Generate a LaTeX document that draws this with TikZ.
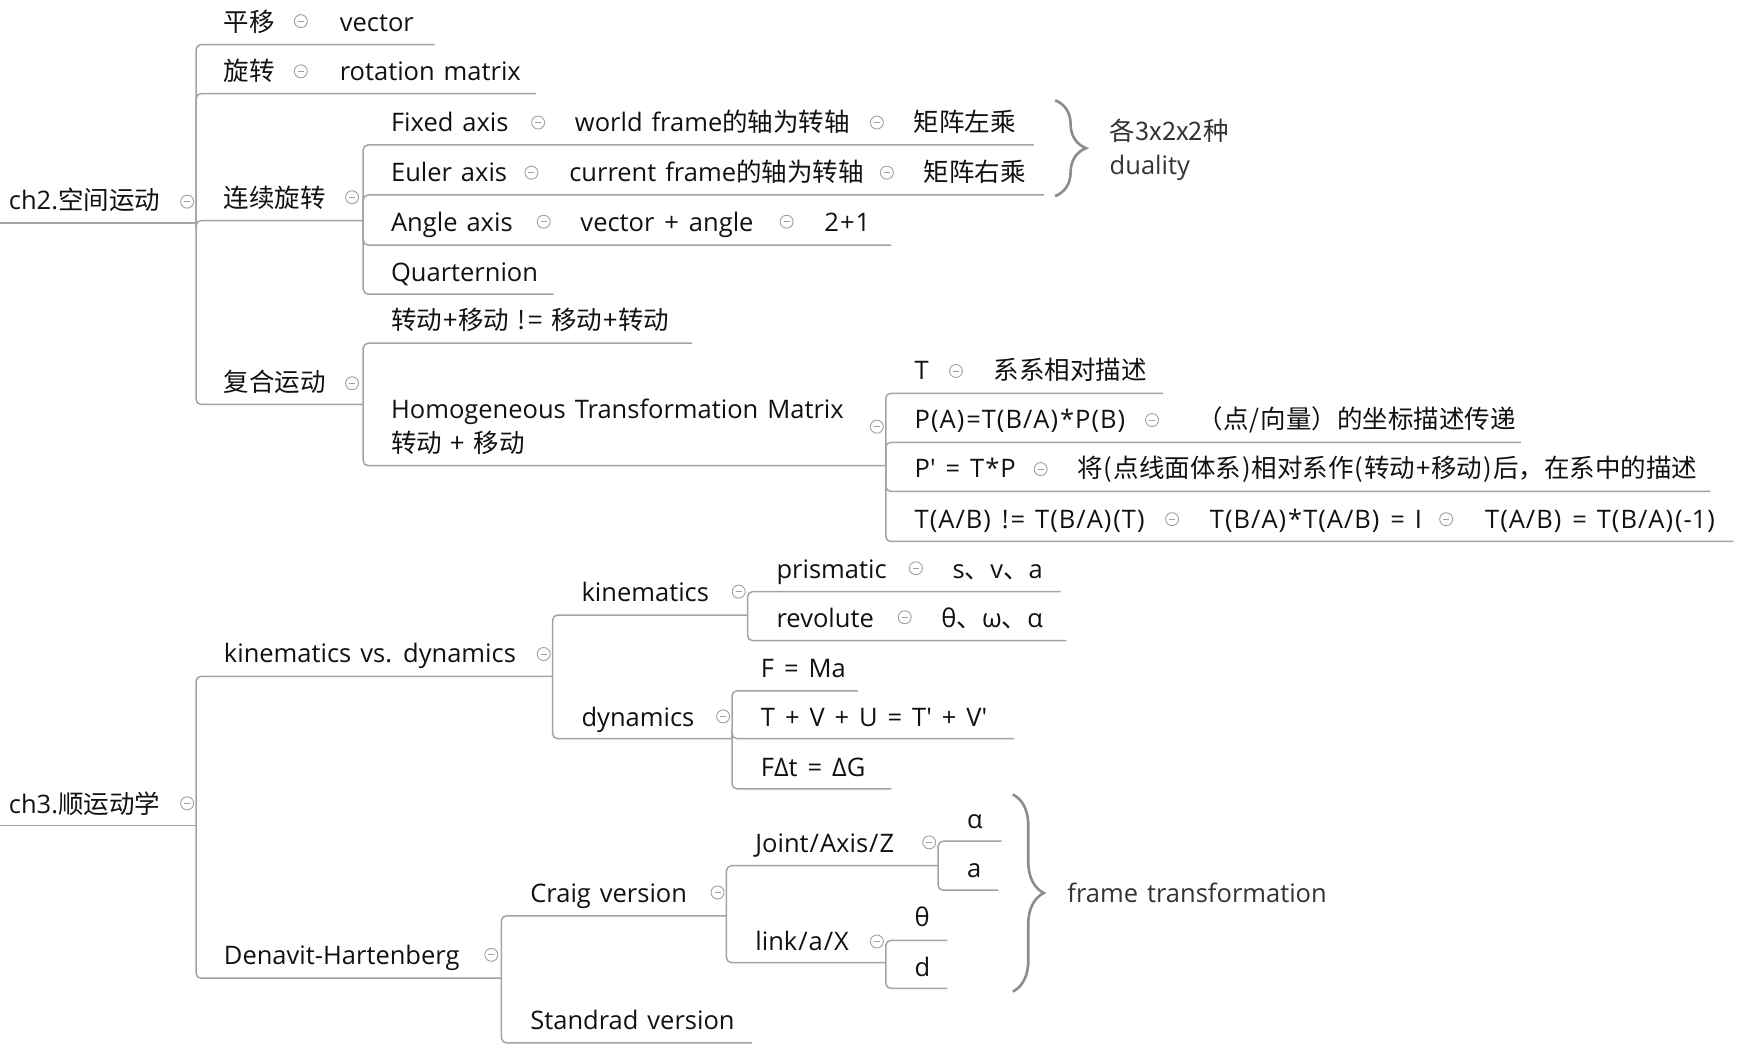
\documentclass[tikz,border=0pt]{standalone}
\usepackage{fontspec}
\setmainfont{Open Sans}[WordSpace=1.35]
\newfontfamily\cjk{Noto Sans CJK SC}[WordSpace=1.35]
\usetikzlibrary{decorations.pathreplacing}
\newXeTeXintercharclass\puncclass
\XeTeXcharclass`\( = \puncclass
\XeTeXcharclass`\) = \puncclass
\XeTeXcharclass`\/ = \puncclass
\XeTeXcharclass`\= = \puncclass
\XeTeXcharclass`\+ = \puncclass
\XeTeXcharclass`\* = \puncclass
\XeTeXcharclass`\! = \puncclass
\XeTeXinterchartoks 0 \puncclass = {\kern1pt\relax}
\XeTeXinterchartoks \puncclass 0 = {\kern1pt\relax}
\XeTeXinterchartoks \puncclass \puncclass = {\kern2pt\relax}
\XeTeXinterchartoks 4095 \puncclass = {\kern1pt\relax}
\XeTeXinterchartoks \puncclass 4095 = {\kern1pt\relax}
\newcommand\mmfont{\fontsize{25.5}{33}\selectfont\XeTeXinterchartokenstate=1\relax}
\definecolor{linec}{HTML}{A3A3A3}
\definecolor{iconc}{HTML}{A0A0A0}
\definecolor{textc}{HTML}{111111}
\definecolor{sumc}{HTML}{333333}
\definecolor{bracec}{HTML}{8C8C8C}
\begin{document}
\begin{tikzpicture}[x=1.1142pt,y=-1.1142pt,
  conn/.style={draw=linec, line width=1.5pt, rounded corners=5pt},
  txt/.style={anchor=base west, inner sep=0pt, outer sep=0pt, text=textc, font=\mmfont},
  sumtxt/.style={txt, text=sumc},
  icon/.style={circle, draw=iconc, line width=0.9pt, minimum size=13pt, inner sep=0pt, fill=white,
    path picture={\draw[iconc, line width=1pt] ([xshift=-3pt]path picture bounding box.center) -- ([xshift=3pt]path picture bounding box.center);}},
  brc/.style={draw=bracec, line width=2.6pt, decorate, decoration={brace, amplitude=31pt}},
]
\path[use as bounding box] (0,0) rectangle (1568,942);

% ---------------- ch2 ----------------
\coordinate (ch2s) at (0,200);
\coordinate (ch2e) at (176,200);
\draw[conn] (ch2s) -- (ch2e);
\node[txt] (ch2) at (8,188) {ch2.{\cjk 空间运动}};
\node[icon] (ch2i) at (168,181) {};

\coordinate (pye) at (390,40);
\draw[conn] (ch2e) |- (pye);
\node[txt] (py) at (201,28) {\cjk 平移};
\node[icon] (pyi) at (270,19) {};
\node[txt] (pyv) at (305,28) {vector};

\coordinate (xze) at (481,84);
\draw[conn] (ch2e) |- (xze);
\node[txt] (xz) at (201,72) {\cjk 旋转};
\node[icon] (xzi) at (270,64) {};
\node[txt] (xzr) at (305,72) {rotation matrix};

\coordinate (lxe) at (326,198);
\draw[conn] (ch2e) |- (lxe);
\node[txt] (lx) at (201,186) {\cjk 连续旋转};
\node[icon] (lxi) at (316,177) {};

\coordinate (fhe) at (326,363);
\draw[conn] (ch2e) |- (fhe);
\node[txt] (fh) at (201,351) {\cjk 复合运动};
\node[icon] (fhi) at (316,344) {};

% 连续旋转 children
\coordinate (fae) at (928,130);
\draw[conn] (lxe) |- (fae);
\node[txt] (fa) at (351,118) {Fixed axis};
\node[icon] (fai) at (483,110) {};
\node[txt] (faw) at (516,118) {world frame{\cjk 的轴为转轴}};
\node[icon] (faj) at (787,110) {};
\node[txt] (fam) at (820,118) {\cjk 矩阵左乘};

\coordinate (eae) at (937,175);
\draw[conn] (lxe) |- (eae);
\node[txt] (ea) at (351,163) {Euler axis};
\node[icon] (eai) at (477,155) {};
\node[txt] (eaw) at (511,163) {current frame{\cjk 的轴为转轴}};
\node[icon] (eaj) at (796,155) {};
\node[txt] (eam) at (829,163) {\cjk 矩阵右乘};

\coordinate (aae) at (800,220);
\draw[conn] (lxe) |- (aae);
\node[txt] (aa) at (351,208) {Angle axis};
\node[icon] (aai) at (488,199) {};
\node[txt] (aav) at (521,208) {vector + angle};
\node[icon] (aaj) at (706,199) {};
\node[txt] (aan) at (740,208) {2+1};

\coordinate (qte) at (497,264);
\draw[conn] (lxe) |- (qte);
\node[txt] (qt) at (351,253) {Quarternion};

% brace 1
\coordinate (b1t) at (947,90);
\coordinate (b1b) at (947,176);
\draw[brc] (b1t) -- (b1b);
\node[sumtxt] (s1a) at (996,126) {\cjk 各3x2x2种};
\node[sumtxt] (s1b) at (996,157) {duality};

% 复合运动 children
\coordinate (nze) at (621,308);
\draw[conn] (fhe) |- (nze);
\node[txt] (nz) at (351,296) {\cjk 转动+移动 != 移动+转动};

\coordinate (hme) at (795,418);
\draw[conn] (fhe) |- (hme);
\node[txt] (hm) at (351,376) {Homogeneous Transformation Matrix};
\node[txt] (hm2) at (351,406) {\cjk 转动 + 移动};
\node[icon] (hmi) at (787,383) {};

% HTM children
\coordinate (the) at (1044,353);
\draw[conn] (hme) |- (the);
\node[txt] (tt) at (821,341) {T};
\node[icon] (tti) at (858,333) {};
\node[txt] (ttd) at (892,341) {\cjk 系系相对描述};

\coordinate (pae) at (1365,397);
\draw[conn] (hme) |- (pae);
\node[txt] (pa) at (821,385) {P(A)=T(B/A)*P(B)};
\node[icon] (pai) at (1034,377) {};
\node[txt] (pad) at (1075,385) {\cjk （点/向量）的坐标描述传递};

\coordinate (ppe) at (1535,441);
\draw[conn] (hme) |- (ppe);
\node[txt] (pp) at (821,429) {P\textquotesingle{} = T*P};
\node[icon] (ppi) at (934,421) {};
\node[txt] (ppd) at (967,429) {\cjk 将(点线面体系)相对系作(转动+移动)后，在系中的描述};

\coordinate (tae) at (1556,486);
\draw[conn] (hme) |- (tae);
\node[txt] (ta) at (821,474) {T(A/B) != T(B/A)(T)};
\node[icon] (tai) at (1052,466) {};
\node[txt] (tab) at (1086,474) {T(B/A)*T(A/B) = I};
\node[icon] (taj) at (1298,466) {};
\node[txt] (tac) at (1333,474) {T(A/B) = T(B/A)(-1)};

% ---------------- ch3 ----------------
\coordinate (ch3s) at (0,741);
\coordinate (ch3e) at (176,741);
\draw[conn] (ch3s) -- (ch3e);
\node[txt] (ch3) at (8,730) {ch3.{\cjk 顺运动学}};
\node[icon] (ch3i) at (168,721) {};

\coordinate (kde) at (496,607);
\draw[conn] (ch3e) |- (kde);
\node[txt] (kd) at (201,595) {kinematics vs. dynamics};
\node[icon] (kdi) at (488,587) {};

\coordinate (dhe) at (450,878);
\draw[conn] (ch3e) |- (dhe);
\node[txt] (dh) at (201,866) {Denavit-Hartenberg};
\node[icon] (dhi) at (441,857) {};

% kinematics vs dynamics children
\coordinate (kie) at (671,552);
\draw[conn] (kde) |- (kie);
\node[txt] (ki) at (522,540) {kinematics};
\node[icon] (kii) at (663,531) {};

\coordinate (dye) at (657,663);
\draw[conn] (kde) |- (dye);
\node[txt] (dy) at (522,652) {dynamics};
\node[icon] (dyi) at (649,643) {};

% kinematics children
\coordinate (pre) at (952,531);
\draw[conn] (kie) |- (pre);
\node[txt] (pr) at (697,519) {prismatic};
\node[icon] (pri) at (822,510) {};
\node[txt] (prv) at (855,519) {s{\cjk 、}v{\cjk 、}a};

\coordinate (rve) at (957,575);
\draw[conn] (kie) |- (rve);
\node[txt] (rv) at (697,563) {revolute};
\node[icon] (rvi) at (812,554) {};
\node[txt] (rvv) at (845,563) {θ{\cjk 、}ω{\cjk 、}α};

% dynamics children
\coordinate (fme) at (770,620);
\draw[conn] (dye) |- (fme);
\node[txt] (fm) at (683,608) {F = Ma};

\coordinate (tve) at (910,663);
\draw[conn] (dye) |- (tve);
\node[txt] (tv) at (683,652) {T + V + U = T\textquotesingle{} + V\textquotesingle};

\coordinate (fte) at (800,708);
\draw[conn] (dye) |- (fte);
\node[txt] (ft) at (683,697) {FΔt = ΔG};

% DH children
\coordinate (cve) at (652,822);
\draw[conn] (dhe) |- (cve);
\node[txt] (cv) at (476,810) {Craig version};
\node[icon] (cvi) at (644,801) {};

\coordinate (sve) at (675,936);
\draw[conn] (dhe) |- (sve);
\node[txt] (sv) at (476,924) {Standrad version};

% Craig children
\coordinate (jae) at (842,777);
\draw[conn] (cve) |- (jae);
\node[txt] (ja) at (678,765) {Joint/Axis/Z};
\node[icon] (jai) at (834,756) {};

\coordinate (lke) at (795,864);
\draw[conn] (cve) |- (lke);
\node[txt] (lk) at (678,853) {link/a/X};
\node[icon] (lki) at (787,845) {};

% Joint children
\coordinate (ale) at (899,755);
\draw[conn] (jae) |- (ale);
\node[txt] (al) at (868,744) {α};

\coordinate (ae) at (896,799);
\draw[conn] (jae) |- (ae);
\node[txt] (an) at (868,788) {a};

% link children
\coordinate (the2) at (850,844);
\draw[conn] (lke) |- (the2);
\node[txt] (th) at (821,832) {θ};

\coordinate (de) at (850,887);
\draw[conn] (lke) |- (de);
\node[txt] (dd) at (821,876) {d};

% brace 2
\coordinate (b2t) at (909,713);
\coordinate (b2b) at (909,890);
\draw[brc] (b2t) -- (b2b);
\node[sumtxt] (s2) at (958,810) {frame transformation};
\end{tikzpicture}
\end{document}
